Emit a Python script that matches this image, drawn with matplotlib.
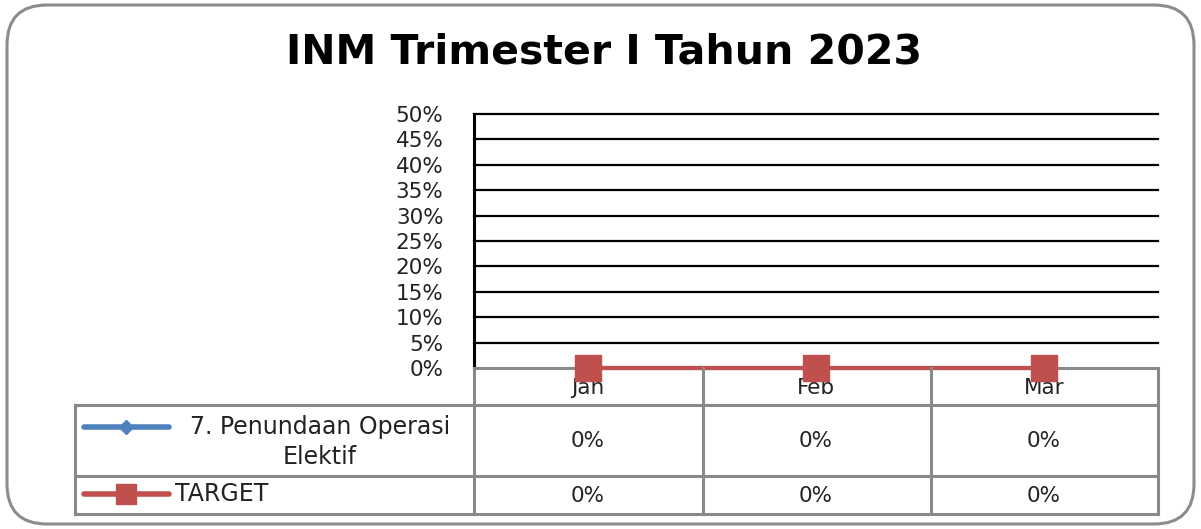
import numpy as np
import matplotlib
matplotlib.use('Agg')
import matplotlib.pyplot as plt
from matplotlib.patches import FancyBboxPatch
from matplotlib.lines import Line2D
from matplotlib.transforms import IdentityTransform, blended_transform_factory
from matplotlib.ticker import PercentFormatter

# data
months = ['Jan', 'Feb', 'Mar']
penundaan = [0.0, 0.0, 0.0]
target = [0.0, 0.0, 0.0]
series_labels = ['7. Penundaan Operasi\nElektif', 'TARGET']
yticks = [0.0, 0.05, 0.10, 0.15, 0.20, 0.25, 0.30, 0.35, 0.40, 0.45, 0.50]

W, H = 1201, 529
BLUE = '#4F81BD'
RED = '#C0504D'
GREY = '#898989'
TXT = '#222222'

plt.rcParams['font.family'] = ['DejaVu Sans']

fig = plt.figure(figsize=(W / 100, H / 100), dpi=100)


def fx(x):
    return x / W


def fy(y):
    return 1 - y / H


# rounded chart frame (pixel coords)
frame = FancyBboxPatch((7, 5), 1187, 519, boxstyle='round,pad=0,rounding_size=40',
                       transform=IdentityTransform(), facecolor='white',
                       edgecolor='#8c8c8c', lw=2.2, zorder=0)
fig.add_artist(frame)

fig.text(fx(604), fy(52), 'INM Trimester I Tahun 2023', ha='center', va='center',
         fontsize=29.5, fontweight='bold', color='black')

# plot area
ax = fig.add_axes([fx(474), fy(368), fx(1158) - fx(474), fy(114) - fy(368)])
ax.set_facecolor('none')
x = np.arange(len(months))
ax.set_xlim(-0.5, len(months) - 0.5)
ax.set_ylim(0, 0.5)
ax.set_yticks(yticks)
ax.yaxis.set_major_formatter(PercentFormatter(1.0, decimals=0))
ax.tick_params(axis='y', length=0, pad=22, labelsize=15.5, labelcolor=TXT)
ax.set_xticks([])
for t in yticks[1:]:
    ax.axhline(t, color='black', lw=1.6, zorder=1, clip_on=False)
for s in ['top', 'right']:
    ax.spines[s].set_visible(False)
ax.spines['left'].set_color('black')
ax.spines['left'].set_linewidth(2.2)
ax.spines['bottom'].set_color(GREY)
ax.spines['bottom'].set_linewidth(2.2)

ax.plot(x, penundaan, color=BLUE, lw=3, marker='D', ms=8, clip_on=False, zorder=4)
ax.plot(x, target, color=RED, lw=3, marker='s', ms=19, clip_on=False, zorder=5)


# data table
def hline(y, x0, x1):
    fig.add_artist(Line2D([fx(x0), fx(x1)], [fy(y), fy(y)], transform=fig.transFigure,
                          color=GREY, lw=2.2, solid_capstyle='projecting', zorder=2))


def vline(xp, y0, y1):
    fig.add_artist(Line2D([fx(xp), fx(xp)], [fy(y0), fy(y1)], transform=fig.transFigure,
                          color=GREY, lw=2.2, solid_capstyle='projecting', zorder=2))


col_edges = [474, 703, 931, 1158]
for xe in col_edges:
    vline(xe, 368, 514)
vline(75, 405, 514)
for yr in [405, 476, 514]:
    hline(yr, 75, 1158)

bt = blended_transform_factory(ax.transData, fig.transFigure)
for i, m in enumerate(months):
    ax.text(x[i], fy(388), m, transform=bt, ha='center', va='center',
            fontsize=15.5, color=TXT, clip_on=False, zorder=3)
    ax.text(x[i], fy(441), f'{penundaan[i]:.0%}', transform=bt, ha='center', va='center',
            fontsize=15.5, color=TXT, clip_on=False)
    ax.text(x[i], fy(496), f'{target[i]:.0%}', transform=bt, ha='center', va='center',
            fontsize=15.5, color=TXT, clip_on=False)

# legend keys inside table
for yk, col, mk, ms in [(427, BLUE, 'D', 7), (494, RED, 's', 14)]:
    fig.add_artist(Line2D([fx(84), fx(169)], [fy(yk), fy(yk)], transform=fig.transFigure,
                          color=col, lw=4, solid_capstyle='round', zorder=3))
    fig.add_artist(Line2D([fx(126)], [fy(yk)], transform=fig.transFigure, color=col,
                          marker=mk, ms=ms, lw=0, zorder=4))

fig.text(fx(320), fy(442), series_labels[0], ha='center', va='center',
         multialignment='center', fontsize=17, color=TXT, linespacing=1.3)
fig.text(fx(175), fy(494), series_labels[1], ha='left', va='center',
         fontsize=17, color=TXT)

fig.savefig('out.png', dpi=100)
